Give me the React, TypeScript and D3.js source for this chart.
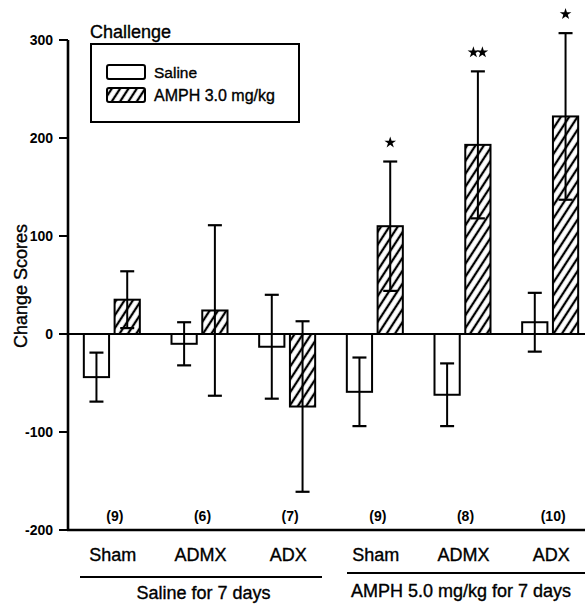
import { useMemo } from 'react';
import * as d3 from 'd3';

const groups = ['Sham', 'ADMX', 'ADX', 'Sham ', 'ADMX ', 'ADX '];
const groupLabels = ['Sham', 'ADMX', 'ADX', 'Sham', 'ADMX', 'ADX'];
const sampleSizes = ['(9)', '(6)', '(7)', '(9)', '(8)', '(10)'];

const salineMeans = [-44, -10, -13, -59, -62, 12];
const salineErrors = [25, 22, 53, 35, 32, 30];
const amphMeans = [35, 24, -74, 110, 193, 222];
const amphErrors = [29, 87, 87, 66, 75, 85];
const amphStars = [0, 0, 0, 1, 2, 1];

const yTicks = [-200, -100, 0, 100, 200, 300];
const pretreatments = ['Saline for 7 days', 'AMPH 5.0 mg/kg for 7 days'];

const FONT = '"Liberation Sans", Arial, Helvetica, sans-serif';

export default function App() {
  const width = 585;
  const height = 606;

  const y = d3.scaleLinear().domain([-200, 300]).range([530, 40]);
  const x = d3.scaleBand<string>().domain(groups).range([68, 594]);
  const inner = d3.scaleBand<string>().domain(['saline', 'amph']).range([-28, 28]).paddingInner(0.18);

  const bars = useMemo(() => {
    const out: { key: string; cx: number; x0: number; w: number; mean: number; err: number; hatch: boolean; stars: number }[] = [];
    groups.forEach((g, i) => {
      const c = x(g)! + x.bandwidth() / 2;
      out.push({ key: g + 's', cx: c + inner('saline')! + inner.bandwidth() / 2, x0: c + inner('saline')!, w: inner.bandwidth(), mean: salineMeans[i], err: salineErrors[i], hatch: false, stars: 0 });
      out.push({ key: g + 'a', cx: c + inner('amph')! + inner.bandwidth() / 2, x0: c + inner('amph')!, w: inner.bandwidth(), mean: amphMeans[i], err: amphErrors[i], hatch: true, stars: amphStars[i] });
    });
    return out;
  }, []);

  const star = d3.symbol().type(d3.symbolStar).size(42)();
  const center = (g: string) => x(g)! + x.bandwidth() / 2;
  // scanned text looks heavier than plain regular weight
  const ink = { stroke: '#000', strokeWidth: 0.35 };

  return (
    <svg width={width} height={height} style={{ position: 'absolute', left: 0, top: 0, background: '#fff' }} fontFamily={FONT}>
      <defs>
        <pattern id="hatch" patternUnits="userSpaceOnUse" width="7" height="7" patternTransform="rotate(33)">
          <rect width="7" height="7" fill="#fff" />
          <line x1="2" y1="0" x2="2" y2="7" stroke="#000" strokeWidth="2.3" />
        </pattern>
      </defs>

      {/* axes */}
      <line x1={68} x2={68} y1={y(300)} y2={y(-200) + 1} stroke="#000" strokeWidth={2.6} />
      <line x1={67} x2={585} y1={y(-200)} y2={y(-200)} stroke="#000" strokeWidth={2.6} />
      <line x1={67} x2={585} y1={y(0)} y2={y(0)} stroke="#000" strokeWidth={2} />
      {yTicks.map(t => (
        <g key={t}>
          <line x1={59} x2={68} y1={y(t)} y2={y(t)} stroke="#000" strokeWidth={2} />
          <text x={53} y={y(t) + 5} textAnchor="end" fontSize={14} fontWeight="bold">{t}</text>
        </g>
      ))}
      <text transform={`translate(27,${286}) rotate(-90)`} textAnchor="middle" fontSize={18} {...ink}>Change Scores</text>

      {/* bars */}
      {bars.map(b => {
        const top = y(Math.max(0, b.mean));
        const bot = y(Math.min(0, b.mean));
        const hi = y(b.mean + b.err);
        const lo = y(b.mean - b.err);
        return (
          <g key={b.key}>
            <rect x={b.x0} y={top} width={b.w} height={bot - top} fill={b.hatch ? 'url(#hatch)' : '#fff'} stroke="#000" strokeWidth={2} />
            <line x1={b.cx} x2={b.cx} y1={hi} y2={lo} stroke="#000" strokeWidth={2} />
            <line x1={b.cx - 7} x2={b.cx + 7} y1={hi} y2={hi} stroke="#000" strokeWidth={2.2} />
            <line x1={b.cx - 7} x2={b.cx + 7} y1={lo} y2={lo} stroke="#000" strokeWidth={2.2} />
            {d3.range(b.stars).map(k => (
              <path key={k} d={star} transform={`translate(${b.cx + (k - (b.stars - 1) / 2) * 9},${hi - 19})`} fill="#000" />
            ))}
          </g>
        );
      })}

      {/* group labels */}
      {groups.map((g, i) => (
        <g key={g}>
          <text x={center(g) + 3} y={521} textAnchor="middle" fontSize={14} fontWeight="bold">{sampleSizes[i]}</text>
          <text x={center(g) + 1} y={561} textAnchor="middle" fontSize={18} {...ink}>{groupLabels[i]}</text>
        </g>
      ))}
      <line x1={80} x2={322} y1={577} y2={577} stroke="#000" strokeWidth={2} />
      <line x1={347} x2={585} y1={573} y2={573} stroke="#000" strokeWidth={2} />
      <text x={(center(groups[0]) + center(groups[2])) / 2 + 4} y={599} textAnchor="middle" fontSize={18} {...ink}>{pretreatments[0]}</text>
      <text x={351} y={597} fontSize={18} {...ink}>{pretreatments[1]}</text>

      {/* legend */}
      <text x={90} y={38} fontSize={18} {...ink}>Challenge</text>
      <rect x={91} y={44} width={208} height={78} fill="#fff" stroke="#000" strokeWidth={2} />
      <rect x={107} y={65} width={38} height={14} rx={2} fill="#fff" stroke="#000" strokeWidth={2} />
      <text x={154} y={78} fontSize={15.5} {...ink}>Saline</text>
      <rect x={107} y={88} width={38} height={14} rx={2} fill="url(#hatch)" stroke="#000" strokeWidth={2} />
      <text x={154} y={101} fontSize={16} {...ink}>AMPH 3.0 mg/kg</text>
    </svg>
  );
}
